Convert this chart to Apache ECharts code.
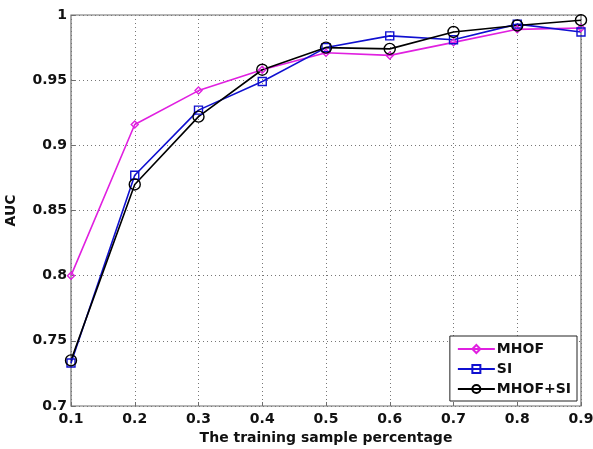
<!DOCTYPE html>
<html>
<head>
<meta charset="utf-8">
<script src="https://cdn.jsdelivr.net/npm/echarts@6/dist/echarts.min.js"></script>
<style>
  html, body { margin: 0; padding: 0; background: #fff; }
  #chart { width: 593px; height: 449px; }
</style>
</head>
<body>
<div id="chart"></div>
<script>
// Training sample percentages on the x axis
const categories = ['0.1', '0.2', '0.3', '0.4', '0.5', '0.6', '0.7', '0.8', '0.9'];

// AUC for each feature set
const mhof   = [0.800, 0.916, 0.942, 0.958, 0.971, 0.969, 0.979, 0.989, 0.990];
const si     = [0.733, 0.877, 0.927, 0.949, 0.975, 0.984, 0.981, 0.993, 0.987];
const mhofSi = [0.735, 0.870, 0.922, 0.958, 0.975, 0.974, 0.987, 0.992, 0.996];

const font = '"DejaVu Sans", Verdana, sans-serif';
const textStyle = { fontFamily: font, fontSize: 14, fontWeight: 'bold', color: '#111' };

const chart = echarts.init(document.getElementById('chart'));

// Hollow markers joined by a solid line
function line(name, data, color, symbol, size) {
  return {
    name: name,
    type: 'line',
    data: data,
    symbol: symbol,
    symbolSize: size,
    showAllSymbol: true,
    lineStyle: { color: color, width: 1.6 },
    itemStyle: { color: 'rgba(255,255,255,0)', borderColor: color, borderWidth: 1.4 },
    emphasis: { disabled: true },
    z: 3
  };
}

chart.setOption({
  animation: false,
  backgroundColor: '#fff',
  grid: {
    left: 71, right: 12, top: 15, bottom: 43,
    outerBoundsMode: 'none',
    containLabel: false,
    show: true, borderColor: '#6e6e6e', borderWidth: 1.2
  },
  legend: {
    orient: 'vertical',
    right: 16,
    bottom: 48,
    itemWidth: 37,
    itemHeight: 10,
    itemGap: 6,
    padding: [6, 6, 5, 7],
    backgroundColor: '#fff',
    borderColor: '#222',
    borderWidth: 1,
    textStyle: Object.assign({}, textStyle, { padding: [0, 0, 0, -3] }),
    data: ['MHOF', 'SI', 'MHOF+SI']
  },
  xAxis: {
    type: 'category',
    data: categories,
    boundaryGap: false,
    name: 'The training sample percentage',
    nameLocation: 'middle',
    nameGap: 25,
    nameTextStyle: textStyle,
    axisLine: { show: false },
    axisTick: { show: true, inside: true, length: 4, lineStyle: { color: '#6e6e6e' } },
    axisLabel: Object.assign({}, textStyle, { margin: 6 }),
    splitLine: { show: true, lineStyle: { color: '#777', type: [1, 3], width: 1 } }
  },
  yAxis: {
    type: 'value',
    min: 0.7,
    max: 1,
    interval: 0.05,
    name: 'AUC',
    nameLocation: 'middle',
    nameGap: 53,
    nameRotate: 90,
    nameTextStyle: textStyle,
    axisLine: { show: false },
    axisTick: { show: true, inside: true, length: 4, lineStyle: { color: '#6e6e6e' } },
    axisLabel: Object.assign({}, textStyle, { margin: 4 }),
    splitLine: { show: true, lineStyle: { color: '#777', type: [1, 3], width: 1 } }
  },
  series: [
    line('MHOF', mhof, '#e020e0', 'diamond', 7),
    line('SI', si, '#1010d0', 'rect', 8),
    line('MHOF+SI', mhofSi, '#000', 'circle', 11)
  ]
});
</script>
</body>
</html>
